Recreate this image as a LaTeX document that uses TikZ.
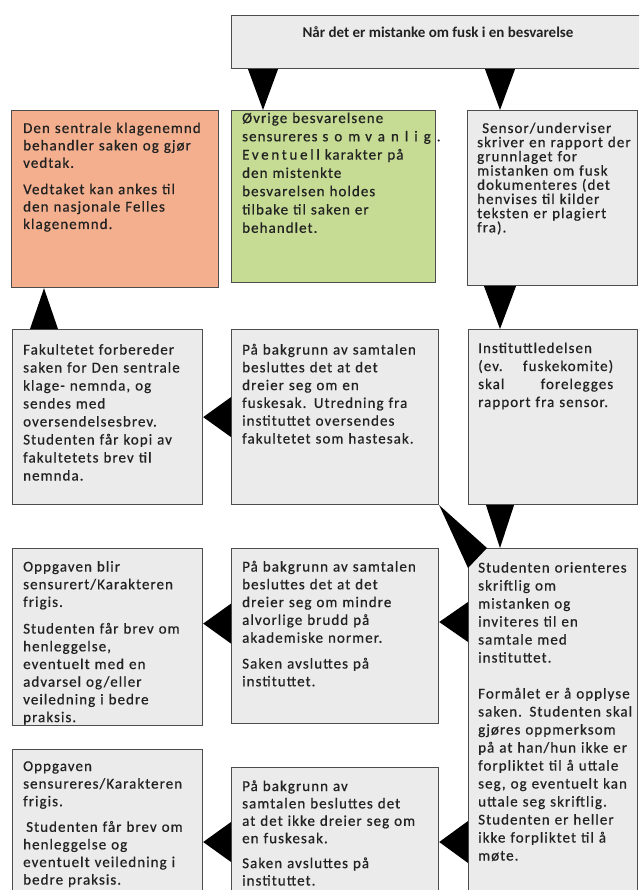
\documentclass[tikz,border=0pt]{standalone}
\usepackage{fontspec}
\setmainfont{Carlito}
\usepackage{xcolor}
\usetikzlibrary{calc}

\definecolor{panel}{HTML}{EBEBEB}
\definecolor{edge}{HTML}{4D4D4D}
\definecolor{salmon}{HTML}{F4B08E}
\definecolor{olive}{HTML}{C6DC94}
\definecolor{ink}{HTML}{222222}

\newcommand\wedgearrow[3]{\fill[black] ($(#1)!#3!90:(#2)$) -- (#2) -- ($(#1)!#3!-90:(#2)$) -- cycle;}
\newcommand\spaced[2]{{\addfontfeatures{LetterSpace=#1}#2}}

\tikzset{
	box/.style={draw=edge, fill=panel, line width=1.2pt, inner sep=0pt, anchor=north west},
	txt/.style={anchor=base west, inner sep=0pt, align=left, text=ink,
		font=\fontsize{15}{#1}\selectfont\addfontfeatures{LetterSpace=7,FakeBold=0.6}},
	txt/.default=18
}

\begin{document}
\begin{tikzpicture}[x=1pt, y=-1pt]
		\useasboundingbox (0,0) rectangle (639,890);
		\clip (0,0) rectangle (639,890);
		% boxes
		\node[box, minimum width=420pt, minimum height=53pt] (top) at (231,15) {};
		\node[box, fill=salmon, minimum width=207pt, minimum height=177pt] (orange) at (11,110) {};
		\node[box, fill=olive, minimum width=204pt, minimum height=172pt] (green) at (231,110) {};
		\node[box, minimum width=170pt, minimum height=175pt] (sensor) at (467,110) {};
		\node[box, minimum width=190pt, minimum height=175pt] (fak) at (12,329) {};
		\node[box, minimum width=207pt, minimum height=175pt] (mid1) at (231,329) {};
		\node[box, minimum width=169pt, minimum height=175pt] (inst) at (468,329) {};
		\node[box, minimum width=190pt, minimum height=177pt] (opp1) at (12,548) {};
		\node[box, minimum width=207pt, minimum height=175pt] (mid2) at (231,548) {};
		\node[box, minimum width=169pt, minimum height=360pt] (stud) at (468,548) {};
		\node[box, minimum width=190pt, minimum height=160pt] (opp2) at (12,749) {};
		\node[box, minimum width=207pt, minimum height=140pt] (mid3) at (231,767) {};

		% texts
		\node[anchor=base, text=ink, font=\bfseries\fontsize{15}{17}\selectfont] (toptxt) at (438,38) {Når det er mistanke om fusk i en besvarelse};
		\node[txt=17.4, text width=194pt] (orangetxt) at (23,133) {Den sentrale klagenemnd\\ behandler saken og gjør\\ vedtak.\\[9pt] Vedtaket kan ankes til\\ den nasjonale Felles\\ klagenemnd.};
		\node[txt=18.3, text width=204pt] (greentxt) at (242,123) {Øvrige besvarelsene\\ sensureres \spaced{40}{som vanlig.}\\ \spaced{18}{Eventuell} karakter på\\ den mistenkte\\ besvarelsen holdes\\ tilbake til saken er\\ behandlet.};
		\node[txt=14.2, text width=160pt] (sensortxt) at (477,133) {\hspace{5pt}Sensor/underviser\\ skriver en rapport der\\ grunnlaget for\\ mistanken om fusk\\ dokumenteres (det\\ henvises til kilder\\ teksten er plagiert\\ fra).};
		\node[txt, text width=178pt] (faktxt) at (23,354.5) {Fakultetet forbereder\\ saken for Den sentrale\\ klage- nemnda, og\\ sendes med\\ oversendelsesbrev.\\ Studenten får kopi av\\ fakultetets brev til\\ nemnda.};
		\node[txt=17.8, text width=196pt] (mid1txt) at (242,354.5) {På bakgrunn av samtalen\\ besluttes det at det\\ dreier seg om en\\ fuskesak. Utredning fra\\ instituttet oversendes\\ fakultetet som hastesak.};
		\node[txt, text width=135pt] (insttxt) at (478,353) {Instituttledelsen\\ (ev.\hfill fuskekomite)\\ skal\hfill forelegges\\ rapport fra sensor.};
		\node[txt=17.7, text width=178pt] (opp1txt) at (23,571.5) {Oppgaven blir\\ sensurert/Karakteren\\ frigis.\\[9pt] Studenten får brev om\\ henleggelse,\\ eventuelt med en\\ advarsel og/eller\\ veiledning i bedre\\ praksis.};
		\node[txt=17.8, text width=196pt] (mid2txt) at (242,571.5) {På bakgrunn av samtalen\\ besluttes det at det\\ dreier seg om mindre\\ alvorlige brudd på\\ akademiske normer.\\[8pt] Saken avsluttes på\\ instituttet.};
		\node[txt, text width=160pt] (studtxt) at (478,572.5) {Studenten orienteres\\ skriftlig om\\ mistanken og\\ inviteres til en\\ samtale med\\ instituttet.\\[18pt] Formålet er å opplyse\\ saken. Studenten skal\\ gjøres oppmerksom\\ på at han/hun ikke er\\ forpliktet til å uttale\\ seg, og eventuelt kan\\ uttale seg skriftlig.\\ Studenten er heller\\ ikke forpliktet til å\\ møte.};
		\node[txt=17.6, text width=178pt] (opp2txt) at (23,771) {Oppgaven\\ sensureres/Karakteren\\ frigis.\\[8pt] \hspace{3pt}Studenten får brev om\\ henleggelse og\\ eventuelt veiledning i\\ bedre praksis.};
		\node[txt=17.4, text width=196pt] (mid3txt) at (242,791) {På bakgrunn av\\ samtalen besluttes det\\ at det ikke dreier seg om\\ en fuskesak.\\[7.5pt] Saken avsluttes på\\ instituttet.};

		% arrows
		\coordinate (a1) at ([xshift=32pt]green.north west);
		\coordinate (b1) at (a1 |- top.south);
		\wedgearrow{b1}{a1}{15pt}
		\coordinate (a2) at ([xshift=33pt]sensor.north west);
		\coordinate (b2) at (a2 |- top.south);
		\wedgearrow{b2}{a2}{15pt}
		\coordinate (a3) at ([xshift=32pt]inst.north west);
		\coordinate (b3) at (a3 |- sensor.south);
		\wedgearrow{b3}{a3}{16pt}
		\coordinate (a4) at ([xshift=32pt]stud.north west);
		\coordinate (b4) at (a4 |- inst.south);
		\wedgearrow{b4}{a4}{14pt}
		\coordinate (b5) at ([xshift=32pt]fak.north west);
		\coordinate (a5) at (b5 |- orange.south);
		\wedgearrow{b5}{a5}{14pt}
		\coordinate (b6) at (mid1.west);
		\coordinate (a6) at (b6 -| fak.east);
		\wedgearrow{b6}{a6}{20pt}
		\coordinate (b7) at ([yshift=12.5pt]mid2.west);
		\coordinate (a7) at (b7 -| opp1.east);
		\wedgearrow{b7}{a7}{20pt}
		\coordinate (b8) at ([yshift=-74pt]stud.north west);
		\coordinate (a8) at (b8 -| mid2.east);
		\wedgearrow{b8}{a8}{20pt}
		\coordinate (b9) at ([yshift=-75pt]mid3.north west);
		\coordinate (a9) at (b9 -| opp2.east);
		\wedgearrow{b9}{a9}{20pt}
		\coordinate (b10) at ([yshift=-294pt]stud.north west);
		\coordinate (a10) at (b10 -| mid3.east);
		\wedgearrow{b10}{a10}{21pt}
		\fill[black] ([xshift=19pt]stud.north west) -- (mid1.south east) -- ([yshift=-20pt]stud.north west) -- cycle;
	\end{tikzpicture}
\end{document}
